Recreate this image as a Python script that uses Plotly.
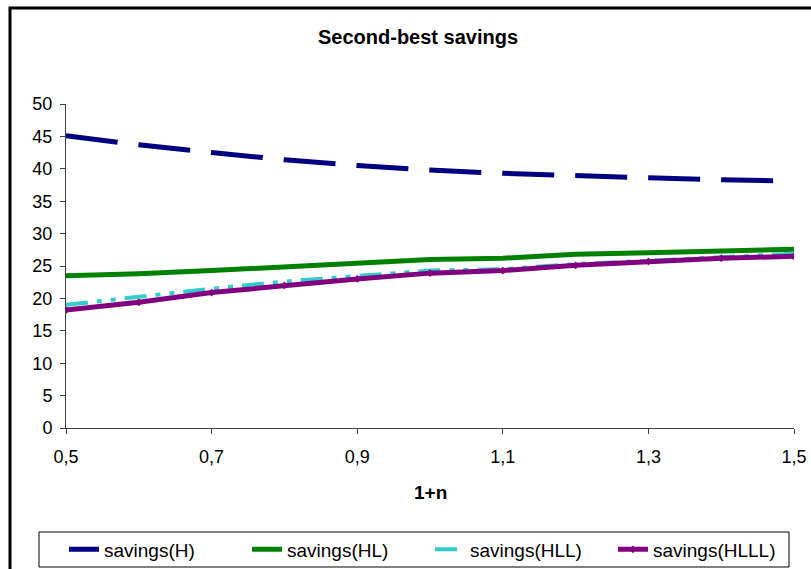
import plotly.graph_objects as go

x_vals = [0.5, 0.6, 0.7, 0.8, 0.9, 1.0, 1.1, 1.2, 1.3, 1.4, 1.5]
savings_H = [45.1, 43.7, 42.5, 41.4, 40.5, 39.8, 39.3, 38.9, 38.6, 38.3, 38.1]
savings_HL = [23.5, 23.8, 24.3, 24.9, 25.4, 26.0, 26.2, 26.8, 27.05, 27.3, 27.6]
savings_HLL = [19.0, 20.3, 21.5, 22.6, 23.5, 24.3, 24.5, 25.3, 25.8, 26.3, 26.9]
savings_HLLL = [18.2, 19.4, 20.9, 22.0, 23.0, 23.9, 24.3, 25.1, 25.7, 26.2, 26.5]
y_ticks = [0, 5, 10, 15, 20, 25, 30, 35, 40, 45, 50]

W, H = 811, 569
L, R, T, B = 66, 794, 104, 428

def px_x(p):
    return (p - L) / (R - L)

def px_y(p):
    return (B - p) / (B - T)

fig = go.Figure()
fig.add_trace(go.Scatter(x=x_vals, y=savings_H, name="savings(H)", mode="lines",
                         line=dict(color="#000080", width=5, dash="52px,21px")))
fig.add_trace(go.Scatter(x=x_vals, y=savings_HL, name="savings(HL)", mode="lines",
                         line=dict(color="#008000", width=5)))
fig.add_trace(go.Scatter(x=x_vals, y=savings_HLL, name="savings(HLL)", mode="lines",
                         line=dict(color="#33CCCC", width=4, dash="22px,9px,5px,9px,5px,9px")))
fig.add_trace(go.Scatter(x=x_vals, y=savings_HLLL, name="savings(HLLL)", mode="lines+markers",
                         line=dict(color="#800080", width=5),
                         marker=dict(symbol="diamond", size=6, color="#800080")))

font_family = "Liberation Sans, Arial, sans-serif"

fig.update_layout(
    width=W, height=H,
    margin=dict(l=L, r=W - R, t=T, b=H - B, autoexpand=False),
    paper_bgcolor="white", plot_bgcolor="white",
    separators=",.",
    font=dict(family=font_family, size=18, color="black"),
    showlegend=True,
    legend=dict(orientation="h", xref="container", yref="container",
                x=430 / W, xanchor="center",
                y=1 - 549.5 / H, yanchor="middle",
                font=dict(size=19, color="black"),
                bgcolor="rgba(0,0,0,0)", borderwidth=0,
                entrywidth=138, entrywidthmode="pixels",
                itemwidth=30, tracegroupgap=0),
)
fig.update_xaxes(range=[0.5, 1.5], tick0=0.5, dtick=0.2, tickformat=".1f",
                 showgrid=False, zeroline=False, showline=True, linecolor="#404040",
                 linewidth=1, ticks="outside", ticklen=5, tickcolor="#404040",
                 tickfont=dict(size=18), ticklabelstandoff=7, automargin=False)
fig.update_yaxes(range=[0, 50], tickvals=y_ticks, showgrid=False, zeroline=False,
                 showline=True, linecolor="#404040", linewidth=1, ticks="outside",
                 ticklen=5, tickcolor="#404040", tickfont=dict(size=18),
                 ticklabelstandoff=4, automargin=False)

fig.add_annotation(text="<b>Second-best savings</b>", xref="paper", yref="paper",
                   x=px_x(418), y=px_y(37), xanchor="center", yanchor="middle",
                   showarrow=False, font=dict(size=20, color="black"))
fig.add_annotation(text="<b>1+n</b>", xref="paper", yref="paper",
                   x=px_x(430), y=px_y(492), xanchor="center", yanchor="middle",
                   showarrow=False, font=dict(size=19, color="black"))

# outer chart frame
fig.add_shape(type="rect", xref="paper", yref="paper",
              x0=px_x(10), x1=px_x(815), y0=px_y(575), y1=px_y(8),
              line=dict(color="black", width=3), fillcolor="rgba(0,0,0,0)", layer="above")
# legend box
fig.add_shape(type="rect", xref="paper", yref="paper",
              x0=px_x(39), x1=px_x(789), y0=px_y(567), y1=px_y(532),
              line=dict(color="black", width=1), fillcolor="rgba(0,0,0,0)", layer="below")

fig.write_html("out.html", config={"displayModeBar": False},
               post_script="document.body.style.margin='0px';")
